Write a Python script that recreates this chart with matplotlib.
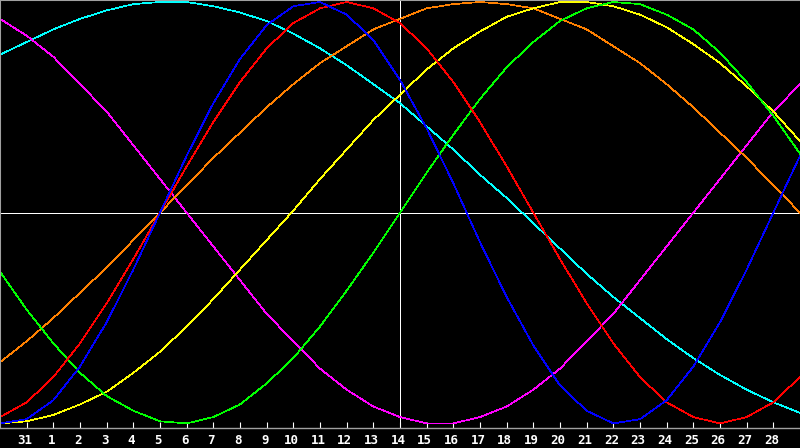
import matplotlib
matplotlib.use("Agg")
import matplotlib.pyplot as plt
from matplotlib.transforms import ScaledTranslation

# Day index along the x axis (0 = the 30th of the previous month, right edge = the 29th)
days = list(range(31))
tick_pos = list(range(1, 30))
tick_labels = ["31"] + [str(d) for d in range(1, 29)]

# Cycle values in percent, one per day
red = [-97, -90, -78, -62, -43, -22, 0, 22, 43, 62, 78, 90, 97, 100, 97, 90, 78, 62, 43, 22,
       0, -22, -43, -62, -78, -90, -97, -100, -97, -90, -78]
blue = [-100, -98, -89, -73, -52, -27, 0, 27, 52, 73, 89, 98, 100, 94, 82, 63, 40, 14, -14, -40,
        -63, -82, -94, -100, -98, -89, -73, -52, -27, 0, 27]
green = [-28, -46, -62, -76, -87, -94, -99, -100, -97, -91, -81, -69, -54, -37, -19, 0, 19, 37,
         54, 69, 81, 91, 97, 100, 99, 94, 87, 76, 62, 46, 28]
orange = [-71, -61, -50, -38, -26, -13, 0, 13, 26, 38, 50, 61, 71, 79, 87, 92, 97, 99, 100, 99,
          97, 92, 87, 79, 71, 61, 50, 38, 26, 13, 0]
magenta = [92, 84, 74, 61, 48, 32, 16, 0, -16, -32, -48, -61, -74, -84, -92, -97, -100, -100,
           -97, -92, -84, -74, -61, -48, -32, -16, 0, 16, 32, 48, 61]
yellow = [-100, -99, -96, -91, -85, -76, -66, -54, -41, -27, -13, 1, 16, 30, 44, 56, 68, 78, 86,
          93, 97, 100, 100, 98, 94, 88, 80, 71, 60, 48, 34]
cyan = [75, 81, 87, 92, 96, 99, 100, 100, 98, 95, 91, 85, 78, 70, 61, 52, 41, 30, 18, 7, -5,
        -17, -29, -40, -50, -60, -69, -77, -84, -90, -95]

series = [
    (cyan, "#00ffff"),
    (magenta, "#ff00ff"),
    (orange, "#ff8000"),
    (yellow, "#ffff00"),
    (green, "#00ff00"),
    (red, "#ff0000"),
    (blue, "#0000ff"),
]

W, H = 800, 448
fig = plt.figure(figsize=(W / 100, H / 100), dpi=100, facecolor="black")
ax = fig.add_axes([0, (H - 428) / H, 1, 428 / H], facecolor="black")

# y pixel = 212.7 - 2.107 * value, axes spans pixel rows 0..428
ax.set_xlim(0, 30)
ax.set_ylim((212.7 - 428) / 2.107, 212.7 / 2.107)

ax.axhline(0, color="white", lw=0.7, antialiased=False, zorder=1)
ax.axvline(15, color="white", lw=0.7, antialiased=False, zorder=1)

for vals, col in series:
    ax.plot(days, vals, color=col, lw=0.5, antialiased=False, zorder=2)

for side in ["top", "left"]:
    ax.spines[side].set_color("#a0a0a0")
    ax.spines[side].set_linewidth(1.5)
ax.spines["right"].set_visible(False)
ax.spines["bottom"].set_color("#a0a0a0")
ax.spines["bottom"].set_linewidth(1.0)

ax.set_yticks([])
ax.set_xticks(tick_pos)
ax.set_xticklabels(tick_labels, fontfamily="DejaVu Sans Mono", fontweight="bold",
                   fontsize=9, color="white")
ax.tick_params(axis="x", direction="in", length=4, width=0.8, color="white", pad=4)
off = ScaledTranslation(-2 / 100, 0, fig.dpi_scale_trans)
for lbl in ax.get_xticklabels():
    lbl.set_transform(lbl.get_transform() + off)

fig.savefig("out.png", dpi=100, facecolor="black")
